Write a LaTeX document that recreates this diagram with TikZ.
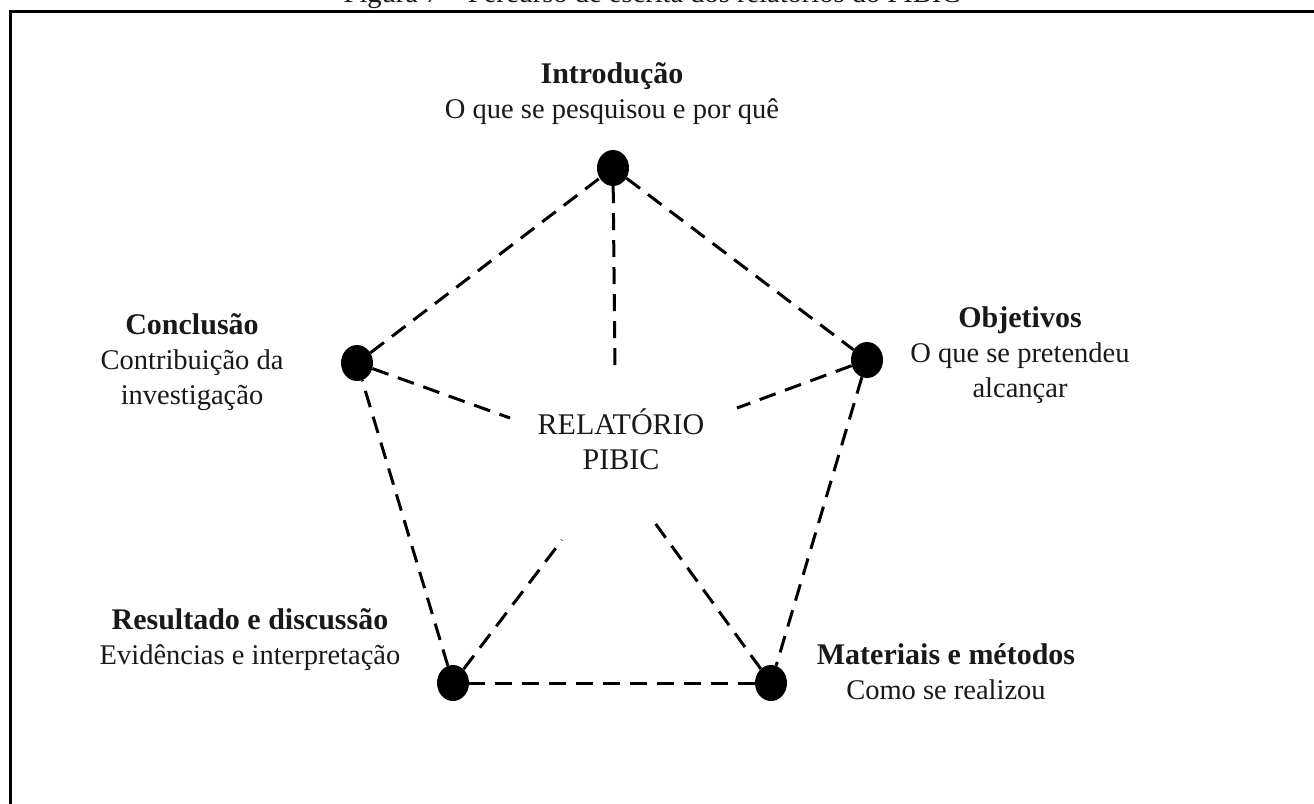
\documentclass[tikz,border=0pt]{standalone}
\usepackage{fontspec}
\setmainfont{Liberation Serif}
\usetikzlibrary{shapes.geometric}
\newcommand{\ttl}[1]{{\fontsize{30}{35}\selectfont\bfseries #1}}
\begin{document}
\begin{tikzpicture}[x=1pt,y=-1pt,
  dot/.style={ellipse,fill=black,draw=none,minimum width=32pt,minimum height=36pt,inner sep=0pt},
  dashline/.style={line width=3pt,dash pattern=on 17pt off 10pt},
  lbl/.style={align=center,anchor=base,inner sep=0pt,text=black!90,font=\fontsize{28.5}{35}\selectfont},
  frame/.style={line width=3pt}]
\clip (0,0) rectangle (1314,803);
\useasboundingbox (0,0) rectangle (1314,803);
\draw[frame] (10,11) rectangle (1400,900);
\node[lbl] (cap) at (652,2) {Figura 7 -- Percurso de escrita dos relatórios do PIBIC};
% dots
\node[dot] (I) at (613,168) {};
\node[dot] (O) at (867,360) {};
\node[dot] (C) at (357,363) {};
\node[dot] (R) at (453,683) {};
\node[dot] (M) at (771,683) {};
% spoke ends
\coordinate (sI) at (615,372);
\coordinate (sC) at (510,418);
\coordinate (sO) at (737,408);
\coordinate (sR) at (562,540);
\coordinate (sM) at (655,523);
% pentagon
\draw[dashline] (I) -- (O);
\draw[dashline] (O) -- (M);
\draw[dashline] (M) -- (R);
\draw[dashline] (R) -- (C);
\draw[dashline] (C) -- (I);
% spokes
\draw[dashline] (I) -- (sI);
\draw[dashline] (C) -- (sC);
\draw[dashline] (O) -- (sO);
\draw[dashline] (R) -- (sR);
\draw[dashline] (M) -- (sM);
% labels (anchor = baseline of last line)
\node[lbl] (tI) at (612,118) {\ttl{Introdução}\\O que se pesquisou e por quê};
\node[lbl] (tO) at (1020,397) {\ttl{Objetivos}\\O que se pretendeu\\alcançar};
\node[lbl] (tC) at (192,404) {\ttl{Conclusão}\\Contribuição da\\investigação};
\node[lbl] (tR) at (250,664) {\ttl{Resultado e discussão}\\Evidências e interpretação};
\node[lbl] (tM) at (946,699) {\ttl{Materiais e métodos}\\Como se realizou};
\node[lbl,font=\fontsize{30}{35}\selectfont] (center) at (621,469) {RELATÓRIO\\PIBIC};
\end{tikzpicture}
\end{document}
